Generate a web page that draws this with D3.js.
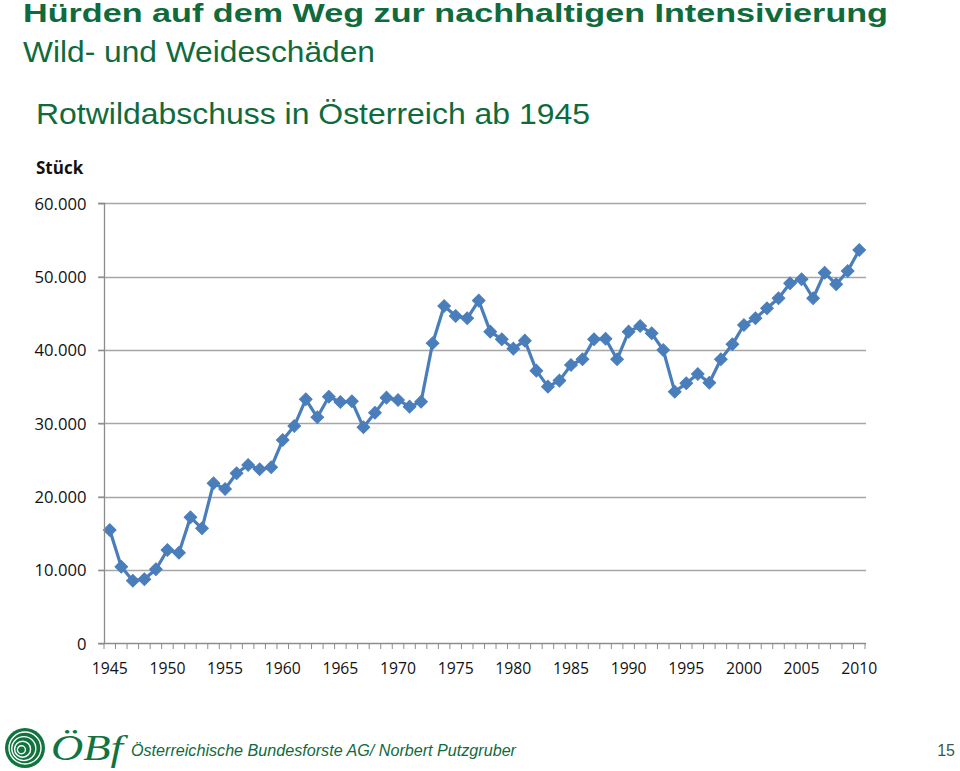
<!DOCTYPE html>
<html><head><meta charset="utf-8">
<script src="https://cdn.jsdelivr.net/npm/d3@7/dist/d3.min.js"></script>
<style>html,body{margin:0;padding:0;background:#fff;}svg{display:block;}</style>
</head><body>
<script>
const years = d3.range(1945, 2011);
const values = [
15450,10450,8540,8730,10090,12720,12360,17180,15680,21820,
21040,23180,24310,23730,24000,27720,29630,33270,30820,33630,
32900,33000,29450,31450,33500,33180,32270,32950,40910,46000,
44640,44320,46730,42500,41450,40180,41270,37180,35000,35820,
37950,38730,41450,41540,38730,42500,43270,42270,40000,34310,
35450,36720,35540,38730,40770,43410,44320,45680,47050,49090,
49640,47050,50540,48950,50770,53640];
const yTicks = [0,10000,20000,30000,40000,50000,60000];
const xLabelYears = [1945,1950,1955,1960,1965,1970,1975,1980,1985,1990,1995,2000,2005,2010];
const titleText = "Hürden auf dem Weg zur nachhaltigen Intensivierung";
const subtitleText = "Wild- und Weideschäden";
const chartTitle = "Rotwildabschuss in Österreich ab 1945";
const unitLabel = "Stück";
const footerText = "Österreichische Bundesforste AG/ Norbert Putzgruber";
const pageNo = "15";

const W = 960, H = 771;
const green = "#0f6b3c";
const sans = "Liberation Sans, Arial, sans-serif";
const svg = d3.select("body").append("svg").attr("width", W).attr("height", H);

// Headings
svg.append("text").attr("x", 23).attr("y", 22).text(titleText)
  .attr("font-family", sans).attr("font-weight", "bold")
  .attr("font-size", 25).attr("fill", green)
  .attr("textLength", 865).attr("lengthAdjust", "spacingAndGlyphs");
svg.append("text").attr("x", 23).attr("y", 62).text(subtitleText)
  .attr("font-family", sans)
  .attr("font-size", 29).attr("fill", green)
  .attr("textLength", 352).attr("lengthAdjust", "spacingAndGlyphs");
svg.append("text").attr("x", 36).attr("y", 124).text(chartTitle)
  .attr("font-family", sans)
  .attr("font-size", 30).attr("fill", green)
  .attr("textLength", 554).attr("lengthAdjust", "spacingAndGlyphs");

// Chart
const x = d3.scaleBand().domain(years).range([104, 865]);
const y = d3.scaleLinear().domain([0, 60000]).range([643.3, 203.3]);
const cx = d => x(d) + x.bandwidth() / 2;

const g = svg.append("g");
g.selectAll("line.grid").data(yTicks.filter(t => t > 0)).join("line")
  .attr("x1", 98).attr("x2", 866)
  .attr("y1", d => Math.round(y(d)) + 0.5).attr("y2", d => Math.round(y(d)) + 0.5)
  .attr("stroke", "#a6a6a6").attr("stroke-width", 1.3);

const yAxis = d3.axisLeft(y).tickValues(yTicks).tickSize(6).tickPadding(12)
  .tickFormat(d => d === 0 ? "0" : d3.format(",")(d).replace(/,/g, "."));
const ya = svg.append("g").attr("transform", "translate(104.5,0)").call(yAxis);
ya.select(".domain").attr("stroke", "#8c8c8c").attr("stroke-width", 1.3).attr("d", `M-6,${y(60000)}H0V${y(0)}`);
ya.selectAll(".tick line").attr("stroke", "#8c8c8c").attr("stroke-width", 1.3);
const yLabels = ya.selectAll(".tick text").attr("font-family", "Open Sans, Liberation Sans, sans-serif")
  .attr("font-size", 16.5).attr("fill", "#111").attr("dy", "0.36em");

const xa = svg.append("g");
xa.append("line").attr("x1", 98).attr("x2", 866).attr("y1", Math.round(y(0)) + 0.5).attr("y2", Math.round(y(0)) + 0.5)
  .attr("stroke", "#8c8c8c").attr("stroke-width", 1.3);
const boundaries = years.map(d => x(d)).concat([x(years[years.length - 1]) + x.bandwidth()]);
xa.selectAll("line.tk").data(boundaries).join("line")
  .attr("x1", d => d).attr("x2", d => d)
  .attr("y1", Math.round(y(0))).attr("y2", Math.round(y(0)) + 6)
  .attr("stroke", "#8c8c8c").attr("stroke-width", 1);
const xLabels = xa.selectAll("text").data(xLabelYears).join("text")
  .attr("x", d => cx(d)).attr("y", 674).attr("text-anchor", "middle").text(d => d)
  .attr("font-family", "Open Sans, Liberation Sans, sans-serif").attr("font-size", 16.5).attr("fill", "#111");

// Calibrate label sizes to the reference widths ("60.000" ≈ 52px, "1945" ≈ 36px)
(function calibrate() {
  const top = yLabels.filter(d => d === 60000).node();
  if (top) {
    const w = top.getComputedTextLength();
    if (w > 0) yLabels.attr("font-size", 16.5 * 52 / w);
  }
  const first = xLabels.filter(d => d === 1945).node();
  if (first) {
    const w = first.getComputedTextLength();
    if (w > 0) xLabels.attr("font-size", 16.5 * 36 / w);
  }
})();

svg.append("text").attr("x", 36).attr("y", 174).text(unitLabel)
  .attr("font-family", "Open Sans, Liberation Sans, sans-serif").attr("font-weight", "bold")
  .attr("font-size", 17).attr("fill", "#111");

const blue = "#4a7ebb";
const line = d3.line().x((d, i) => cx(years[i])).y(d => y(d));
g.append("path").datum(values).attr("d", line).attr("fill", "none")
  .attr("stroke", blue).attr("stroke-width", 3.2).attr("stroke-linejoin", "round");
const sym = d3.symbol().type(d3.symbolSquare).size(80);
g.selectAll("path.mk").data(values).join("path").attr("class", "mk")
  .attr("d", sym)
  .attr("transform", (d, i) => `translate(${cx(years[i])},${y(d)}) rotate(45)`)
  .attr("fill", blue).attr("stroke", blue).attr("stroke-width", 1);

// footer logo
const logo = svg.append("g").attr("transform", "translate(25,748)");
logo.append("circle").attr("r", 20).attr("fill", "#13733f");
[16, 12, 8, 4].forEach((r, i) => {
  logo.append("circle").attr("cx", -i * 1.2).attr("cy", i * 0.6).attr("r", r)
    .attr("fill", "none").attr("stroke", "#fff").attr("stroke-width", 1.4);
});
svg.append("text").attr("x", 51).attr("y", 760).text("ÖBf")
  .attr("font-family", "Liberation Serif, DejaVu Serif, serif").attr("font-style", "italic")
  .attr("font-size", 36).attr("fill", "#13733f")
  .attr("textLength", 72).attr("lengthAdjust", "spacingAndGlyphs");
svg.append("text").attr("x", 131).attr("y", 756).text(footerText)
  .attr("font-family", sans).attr("font-style", "italic")
  .attr("font-size", 16.5).attr("fill", green)
  .attr("textLength", 385).attr("lengthAdjust", "spacingAndGlyphs");
svg.append("text").attr("x", 955).attr("y", 756).attr("text-anchor", "end").text(pageNo)
  .attr("font-family", sans)
  .attr("font-size", 16).attr("fill", "#3a5a48");
</script>
</body></html>
